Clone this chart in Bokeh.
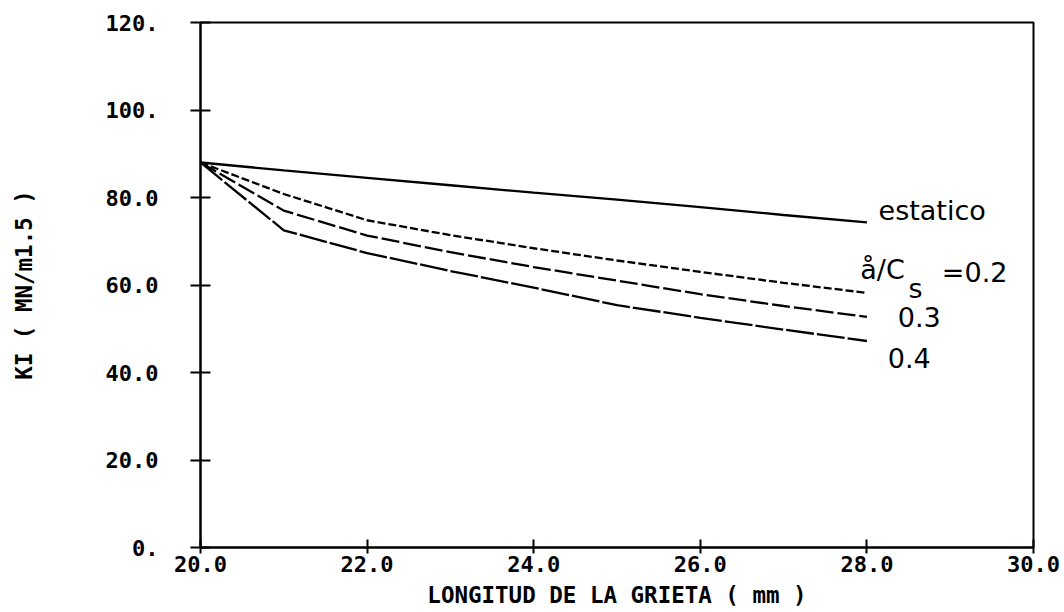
from bokeh.plotting import figure
from bokeh.embed import file_html
from bokeh.resources import INLINE
from bokeh.models import FixedTicker, Range1d
from bokeh.core.properties import value

# ---- data ----
crack_len = [20, 21, 22, 23, 24, 25, 26, 27, 28]
ki_estatico = [88, 86.2, 84.5, 82.8, 81.1, 79.5, 77.8, 76.0, 74.3]
ki_02 = [88, 80.8, 74.8, 71.4, 68.4, 65.6, 63.0, 60.5, 58.2]
ki_03 = [88, 77.0, 71.3, 67.5, 64.1, 61.0, 57.9, 55.2, 52.7]
ki_04 = [88, 72.5, 67.3, 63.2, 59.4, 55.4, 52.5, 49.8, 47.2]

x_ticks = [20, 22, 24, 26, 28, 30]
x_tick_labels = ["20.0", "22.0", "24.0", "26.0", "28.0", "30.0"]
y_ticks = [0, 20, 40, 60, 80, 100, 120]
y_tick_labels = ["0.", "20.0", "40.0", "60.0", "80.0", "100.", "120."]

x_title = "LONGITUD DE LA GRIETA ( mm )"
y_title = "KI ( MN/m1.5 )"

mono = "DejaVu Sans Mono"
sans = "DejaVu Sans"

p = figure(width=1064, height=612, output_backend="svg", toolbar_location=None,
           x_range=Range1d(20, 30), y_range=Range1d(0, 120))
p.min_border_left = 200
p.min_border_right = 31
p.min_border_top = 22
p.min_border_bottom = 65
p.background_fill_color = "white"
p.border_fill_color = "white"
p.outline_line_color = "black"
p.outline_line_width = 2
p.xgrid.visible = False
p.ygrid.visible = False

# axes
xa = p.xaxis[0]
xa.ticker = FixedTicker(ticks=x_ticks)
xa.major_label_overrides = {t: l for t, l in zip(x_ticks, x_tick_labels)}
xa.minor_tick_line_color = None
xa.major_tick_in = 8
xa.major_tick_out = 6
xa.major_label_standoff = 2
xa.axis_line_width = 2
xa.major_tick_line_width = 2
xa.major_label_text_font = mono
xa.major_label_text_font_size = "22px"
xa.major_label_text_font_style = "bold"
xa.major_label_text_color = "black"
xa.axis_label = x_title
xa.axis_label_text_font = mono
xa.axis_label_text_font_size = "22.5px"
xa.axis_label_text_font_style = "bold"
xa.axis_label_text_color = "black"
xa.axis_label_standoff = 7

ya = p.yaxis[0]
ya.ticker = FixedTicker(ticks=y_ticks)
ya.major_label_overrides = {t: l for t, l in zip(y_ticks, y_tick_labels)}
ya.minor_tick_line_color = None
ya.major_tick_in = 10
ya.major_tick_out = 10
ya.major_label_standoff = 32
ya.axis_line_width = 2
ya.major_tick_line_width = 2
ya.major_label_text_font = mono
ya.major_label_text_font_size = "22px"
ya.major_label_text_font_style = "bold"
ya.major_label_text_color = "black"
ya.axis_label = y_title
ya.axis_label_text_font = mono
ya.axis_label_text_font_size = "22.5px"
ya.axis_label_text_font_style = "bold"
ya.axis_label_text_color = "black"
ya.axis_label_standoff = 66

# curves
lw = 2.3
p.line(crack_len, ki_estatico, line_color="black", line_width=lw)
p.line(crack_len, ki_02, line_color="black", line_width=lw, line_dash="8 3")
p.line(crack_len, ki_03, line_color="black", line_width=lw, line_dash="18 4")
p.line(crack_len, ki_04, line_color="black", line_width=lw, line_dash="28 3")

# curve labels, placed relative to the end of each curve
xe = crack_len[-1]
fs = "27px"
p.text(x=[xe + 0.14], y=[ki_estatico[-1] + 2.8], text=["estatico"],
       text_font=value(sans), text_font_size=fs, text_baseline="middle",
       text_align="left", text_color="black")
p.text(x=[xe - 0.08], y=[ki_02[-1] + 5.4], text=["å/C"],
       text_font=value(sans), text_font_size=fs, text_baseline="middle",
       text_align="left", text_color="black")
p.text(x=[xe + 0.50], y=[ki_02[-1] + 1.1], text=["s"],
       text_font=value(sans), text_font_size=fs, text_baseline="middle",
       text_align="left", text_color="black")
p.text(x=[xe + 0.90], y=[ki_02[-1] + 4.6], text=["=0.2"],
       text_font=value(sans), text_font_size=fs, text_baseline="middle",
       text_align="left", text_color="black")
p.text(x=[xe + 0.37], y=[ki_03[-1] - 0.1], text=["0.3"],
       text_font=value(sans), text_font_size=fs, text_baseline="middle",
       text_align="left", text_color="black")
p.text(x=[xe + 0.25], y=[ki_04[-1] - 3.9], text=["0.4"],
       text_font=value(sans), text_font_size=fs, text_baseline="middle",
       text_align="left", text_color="black")

open("out.html", "w").write(file_html(p, INLINE))
